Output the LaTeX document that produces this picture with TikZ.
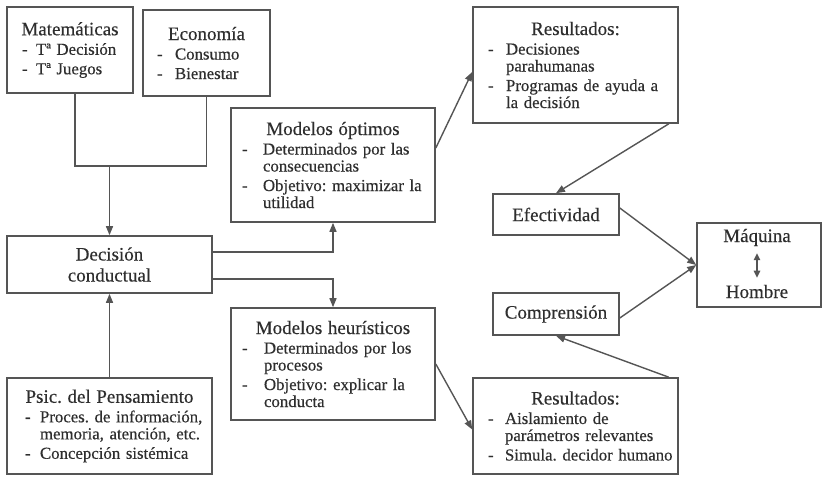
\documentclass[tikz,border=0pt]{standalone}
\usepackage{fontspec}
\setmainfont{Liberation Serif}[UprightFeatures={FakeBold=0.35}]
\usetikzlibrary{arrows.meta,calc}
\definecolor{ink}{HTML}{2E2E2E}
\definecolor{edge}{HTML}{555555}
\newcommand\ttl[1]{{\centering\fontsize{19}{21}\selectfont #1\par}}
\newcommand\itm[3]{\par\vskip2.5pt{\leftskip=#1pt\relax\hangindent=#2pt\hangafter=1\noindent\makebox[#2pt][l]{-}#3\par}}
\tikzset{
  box/.style={draw=edge, line width=1.6pt, inner sep=0pt, text=ink,
    font=\fontsize{16.8}{17}\selectfont\frenchspacing},
  tbox/.style={box, text width=#1pt, align=left},
  hbox/.style={box, align=center, font=\fontsize{19}{21}\selectfont},
  line/.style={draw=edge, line width=1.4pt},
  arr/.style={line, -{Triangle[length=9pt,width=7pt]}},
  dbl/.style={line, {Triangle[length=7pt,width=6.5pt]}-{Triangle[length=7pt,width=6.5pt]}},
  lbl/.style={text=ink, inner sep=2pt, font=\fontsize{19}{21}\selectfont}
}
\begin{document}
\begin{tikzpicture}[x=1pt,y=-1pt]
\useasboundingbox[fill=white] (0,0) rectangle (822,477);

\node[tbox=126, minimum height=86pt] (mat) at (70,50)
  {\ttl{Matemáticas}\itm{15}{14}{Tª Decisión}\itm{15}{14}{Tª Juegos}};
\node[tbox=127, minimum height=86pt] (eco) at (206.5,53)
  {\ttl{Economía}\itm{14}{18}{Consumo}\itm{14}{18}{Bienestar}};
\node[hbox, minimum width=205pt, minimum height=57pt] (dec) at (109.5,264.5)
  {Decisión\\conductual};
\node[tbox=204, minimum height=114pt] (opt) at (333,165)
  {\ttl{Modelos óptimos}\itm{11}{21}{Determinados por las\newline consecuencias}\itm{11}{21}{Objetivo: maximizar la\newline utilidad}};
\node[tbox=204, minimum height=112pt] (heu) at (333,364)
  {\ttl{Modelos heurísticos}\itm{11}{22}{Determinados por los\newline procesos}\itm{11}{22}{Objetivo: explicar la\newline conducta}};
\node[tbox=205, minimum height=96pt] (psi) at (109.5,426)
  {\ttl{Psic. del Pensamiento}\itm{18}{15}{Proces. de información,\newline memoria, atención, etc.}\itm{18}{15}{Concepción sistémica}};
\node[tbox=205, minimum height=116pt] (res1) at (575.5,65)
  {\ttl{Resultados:}\itm{15}{18}{Decisiones\newline parahumanas}\itm{15}{18}{Programas de ayuda a\newline la decisión}};
\node[tbox=205, minimum height=96pt] (res2) at (575.5,426)
  {\ttl{Resultados:}\itm{15}{17}{Aislamiento de\newline parámetros relevantes}\itm{15}{17}{Simula. decidor humano}};
\node[hbox, minimum width=126pt, minimum height=41pt] (efe) at (556,214.5) {Efectividad};
\node[hbox, minimum width=126pt, minimum height=42pt] (com) at (556,314) {Comprensión};
\node[box, minimum width=124pt, minimum height=84pt] (maq) at (759,265) {};
\node[lbl, anchor=base] (maqt) at (757,242) {Máquina};
\node[lbl, anchor=base] (maqb) at (757,298) {Hombre};

\coordinate (j) at (109.5,166);
\draw[line] ($(mat.south)+(5,0)$) |- (j) -| (eco.south);
\draw[arr] (j) -- (dec.north);
\draw[arr] ($(dec.east)+(0,-12.5)$) -| (opt.south);
\draw[arr] ($(dec.east)+(0,14.5)$) -| (heu.north);
\draw[arr] (psi.north) -- (dec.south);
\draw[arr] ($(opt.east)+(0,-17)$) -- ($(res1.west)+(0,7)$);
\draw[arr] ($(res1.south east)+(-10,0)$) -- (efe.north);
\draw[arr] ($(efe.east)+(0,-6.5)$) -- (maq.west);
\draw[arr] ($(com.east)+(0,4)$) -- (maq.west);
\draw[arr] (heu.east) -- ($(res2.west)+(0,3.5)$);
\draw[arr] ($(res2.north east)+(-10,0)$) -- (com.south);
\draw[dbl, shorten <=5pt, shorten >=5pt] (maqt) -- (maqb);
\end{tikzpicture}
\end{document}
